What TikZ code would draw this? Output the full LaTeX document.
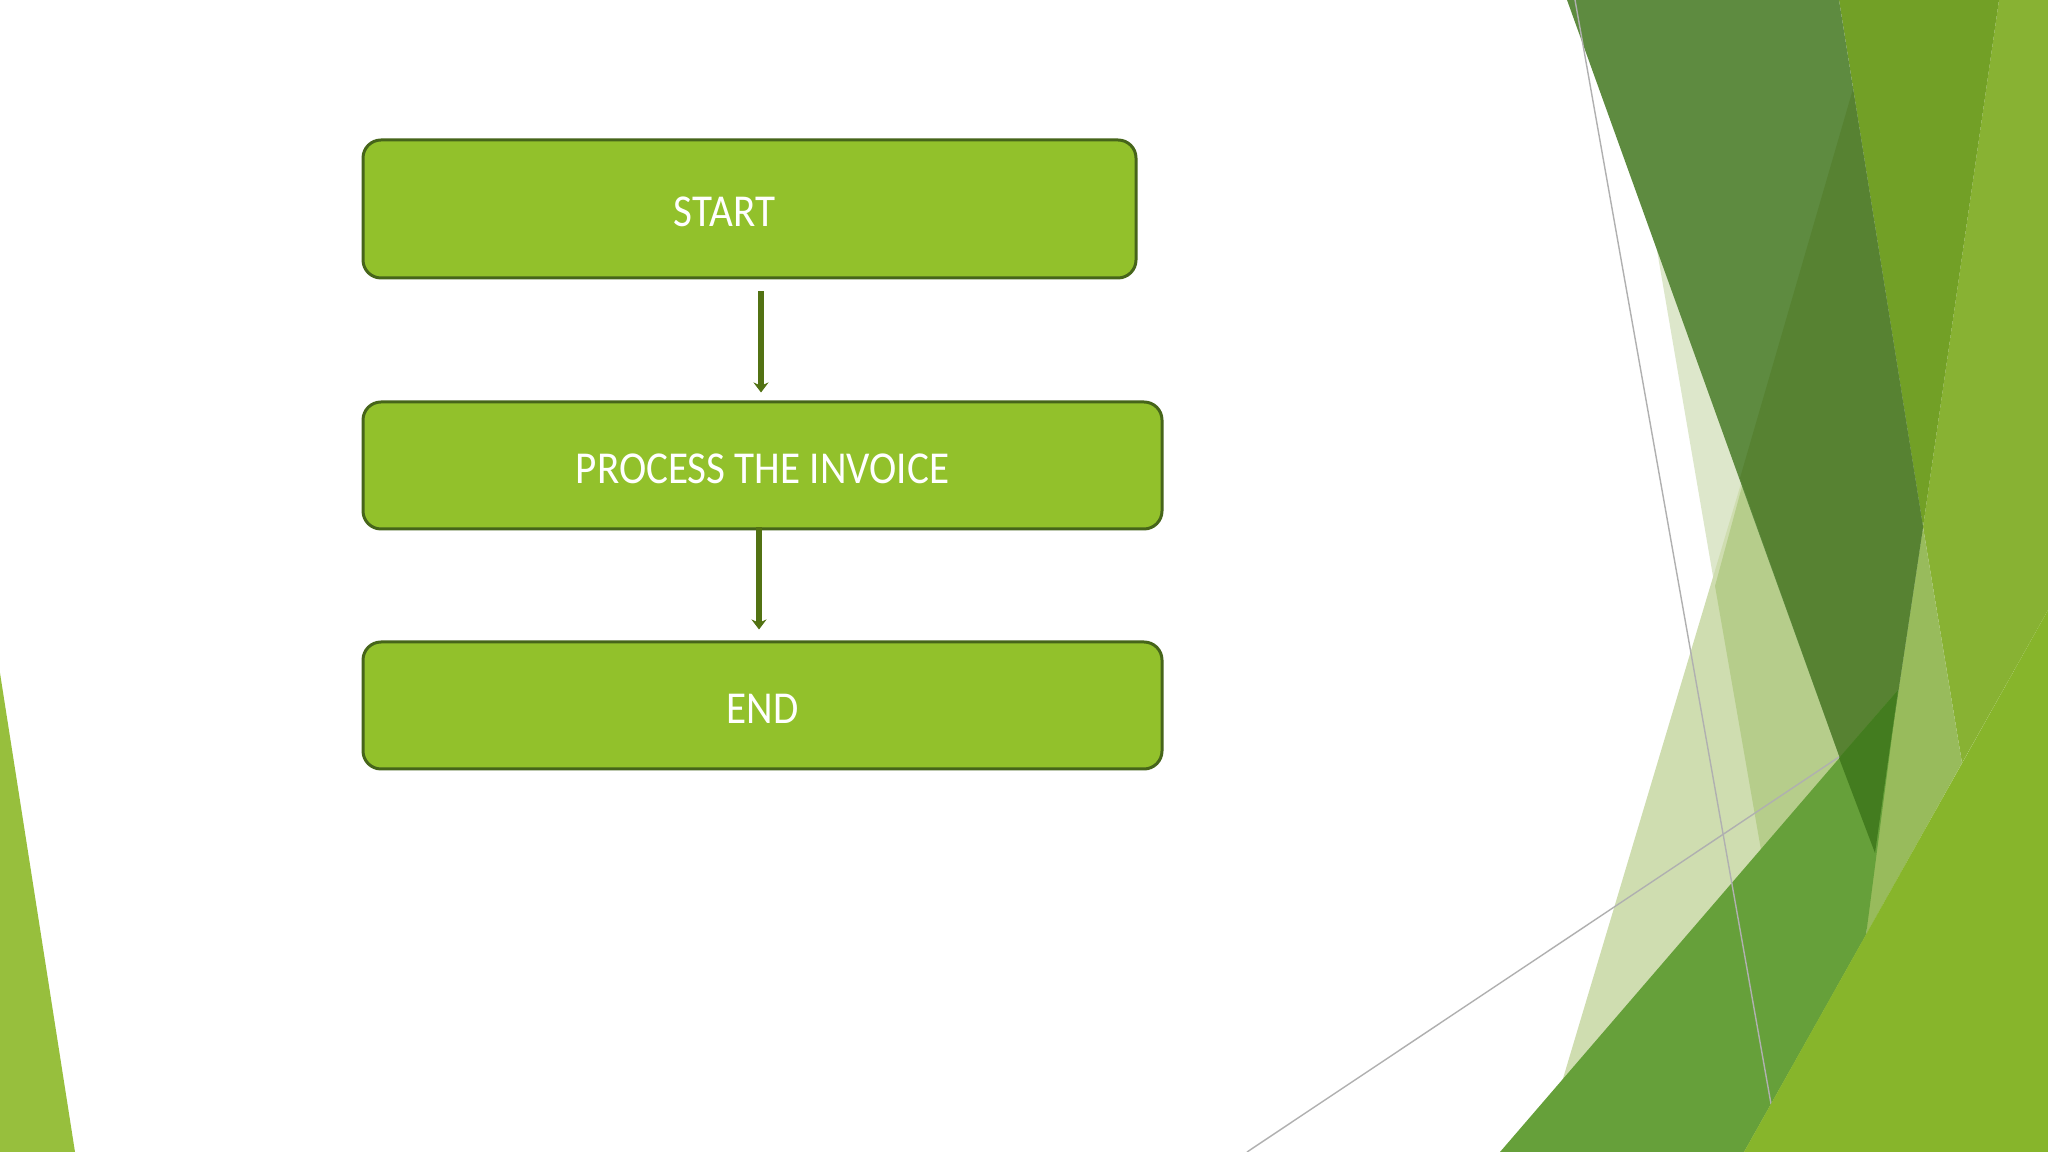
\documentclass[tikz,border=0pt]{standalone}
\usepackage{fontspec}
\setmainfont{Carlito}
\newfontfamily\boxfont[FakeStretch=0.9]{Carlito}
\usepackage{tikz}
\usetikzlibrary{arrows.meta}
\definecolor{boxgreen}{HTML}{92C12B}
\definecolor{boxedge}{HTML}{46651A}
\definecolor{arrowgreen}{HTML}{527213}
\definecolor{leafdark}{HTML}{5E8B40}
\definecolor{leafdeep}{HTML}{578232}
\definecolor{leafolive}{HTML}{72A026}
\definecolor{leaflime}{HTML}{88B233}
\definecolor{leafbright}{HTML}{87B52B}
\definecolor{leafmid}{HTML}{66A03A}
\definecolor{leafshade}{HTML}{437C1F}
\definecolor{leafpale}{HTML}{98BB5C}
\definecolor{leafleft}{HTML}{97BF3D}
\definecolor{mistlight}{HTML}{DDE7CB}
\definecolor{mist}{HTML}{CFDDB0}
\definecolor{mistdeep}{HTML}{B6CD8B}
\definecolor{hairline}{HTML}{B0B0B0}
\begin{document}
\begin{tikzpicture}[x=0.1mm, y=-0.1mm,
        flowbox/.style={draw=boxedge, fill=boxgreen, line width=0.3mm, rounded corners=1.8mm,
                        text=white, font=\boxfont\fontsize{13}{15}\selectfont, inner sep=0pt,
                        text height=3.6mm},
        flowarrow/.style={draw=arrowgreen, line width=0.6mm, -{Stealth[length=1mm, width=1.5mm]}},
        thinline/.style={draw=hairline, line width=0.4pt}]

        \useasboundingbox (0,0) rectangle (2048,1152);
        \fill[white] (0,0) rectangle (2048,1152);

        % Pale strips
        \fill[mistlight] (1614,0) -- (1720,0) -- (1850,860) -- (1760,850) -- cycle;
        \fill[mist] (1760,420) -- (1541,1152) -- (1800,1152) -- (1900,700) -- cycle;
        \fill[mistdeep] (1715,586) -- (1760,420) -- (1850,600) -- (1850,860) -- (1761,850) -- cycle;

        % Right strips
        \fill[leaflime] (1999,0) -- (2048,0) -- (2048,610) -- (1962,763) -- (1923,527) -- cycle;
        \fill[leafpale] (1923,527) -- (1962,763) -- (1866,935) -- (1874,853) -- cycle;
        \fill[leafolive] (1839,0) -- (1999,0) -- (1923,527) -- cycle;

        % Dark facet
        \fill[leafdark] (1567,0) -- (1839,0) -- (1923,527) -- (1874,853) -- cycle;
        \fill[leafdeep] (1853,89) -- (1740,478) -- (1874,853) -- (1923,527) -- cycle;

        % Middle band
        \fill[leafmid] (1500,1152) -- (1898,690) -- (1866,935) -- (1744,1152) -- cycle;
        \fill[leafshade] (1839,758) -- (1898,690) -- (1875,853) -- cycle;

        % Thin lines
        \draw[thinline] (1575,0) -- (1771,1104);
        \draw[thinline] (1247,1152) -- (1839,757);

        % Bright corner
        \fill[leafbright] (2048,610) -- (2048,1152) -- (1744,1152) -- cycle;

        % Left corner
        \fill[leafleft] (0,673) -- (75,1152) -- (0,1152) -- cycle;

        % Steps
        \node[flowbox, minimum width=77.3mm, minimum height=13.8mm] (start) at (749.5,209) {START\kern5mm};
        \node[flowbox, minimum width=79.9mm, minimum height=12.7mm] (process) at (762.5,465.5) {PROCESS THE INVOICE};
        \node[flowbox, minimum width=79.9mm, minimum height=12.7mm] (end) at (762.5,705.5) {END};

        % Arrows
        \draw[flowarrow, shorten <=1.2mm, shorten >=0.8mm] ([xshift=1.15mm]start.south) -- ([xshift=1.15mm]start.south |- process.north);
        \draw[flowarrow, shorten <=-0.3mm, shorten >=1.1mm] ([xshift=-0.35mm]process.south) -- ([xshift=-0.35mm]process.south |- end.north);
       \end{tikzpicture}
\end{document}
